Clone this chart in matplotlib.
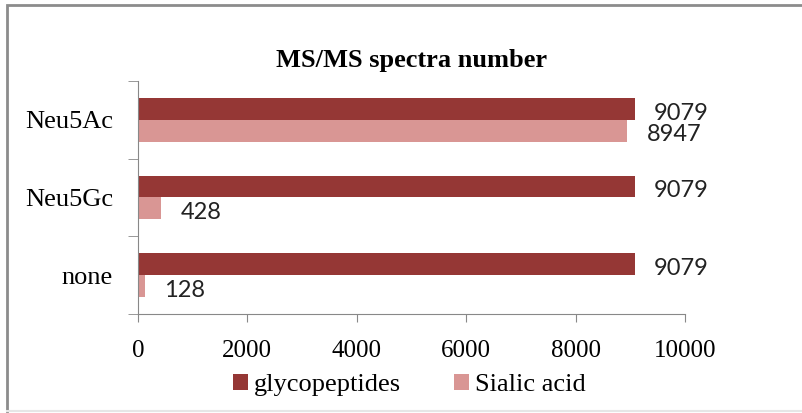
import matplotlib.pyplot as plt
from matplotlib.lines import Line2D

categories = ["Neu5Ac", "Neu5Gc", "none"]
glycopeptides = [9079, 9079, 9079]
sialic_acid = [8947, 428, 128]
x_ticks = [0, 2000, 4000, 6000, 8000, 10000]

dark = "#953735"
light = "#d99694"

fig = plt.figure(figsize=(8.02, 4.13), dpi=100)
ax = fig.add_axes([0.172, 0.24, 0.682, 0.564])

# first category on top
ypos = [len(categories) - 1 - i for i in range(len(categories))]
h = 0.28
b1 = ax.barh([y + h / 2 for y in ypos], glycopeptides, height=h,
             color=dark, label="glycopeptides")
b2 = ax.barh([y - h / 2 for y in ypos], sialic_acid, height=h,
             color=light, label="Sialic acid")

for bars, vals in ((b1, glycopeptides), (b2, sialic_acid)):
    for bar, v in zip(bars, vals):
        ax.annotate(str(v), (v, bar.get_y() + bar.get_height() / 2),
                    xytext=(14, -3), textcoords="offset points",
                    ha="left", va="center", fontsize=17, family="Lato",
                    color="#222222")

ax.set_xlim(0, 10000)
ax.set_ylim(-0.5, len(categories) - 0.5)
ax.set_xticks(x_ticks)
ax.set_xticklabels([str(t) for t in x_ticks], family="Liberation Serif",
                   fontsize=18)
ax.set_yticks(ypos)
ax.set_yticklabels(categories, family="Liberation Serif", fontsize=19)
ax.set_yticks([-0.5, 0.5, 1.5, 2.5], minor=True)
ax.tick_params(axis="y", which="major", length=0, pad=18)
ax.tick_params(axis="y", which="minor", length=7, color="#888888")
ax.tick_params(axis="x", length=6, color="#888888", pad=13)

for s in ("top", "right"):
    ax.spines[s].set_visible(False)
for s in ("left", "bottom"):
    ax.spines[s].set_color("#888888")

ax.set_title("MS/MS spectra number", family="Liberation Serif",
             fontweight="bold", fontsize=19, pad=10)

fig.legend(handles=[b1, b2], loc="center", bbox_to_anchor=(0.51, 0.068),
           ncol=2, frameon=False, prop={"family": "Liberation Serif", "size": 19},
           handlelength=0.6, handleheight=0.6, handletextpad=0.2,
           columnspacing=2.0)

# outer chart frame: grey top and left edge, faint bottom edge
x0, y0, y1 = 7 / 802, 2 / 413, 1 - 5 / 413
fig.add_artist(Line2D([1.0, x0, x0], [y1, y1, y0],
                      transform=fig.transFigure, color="#8c8c8c",
                      linewidth=2, solid_joinstyle="miter"))
fig.add_artist(Line2D([x0, 1.0], [y0, y0], transform=fig.transFigure,
                      color="#e6e6e6", linewidth=1.5))

fig.savefig("out.png", dpi=100)
